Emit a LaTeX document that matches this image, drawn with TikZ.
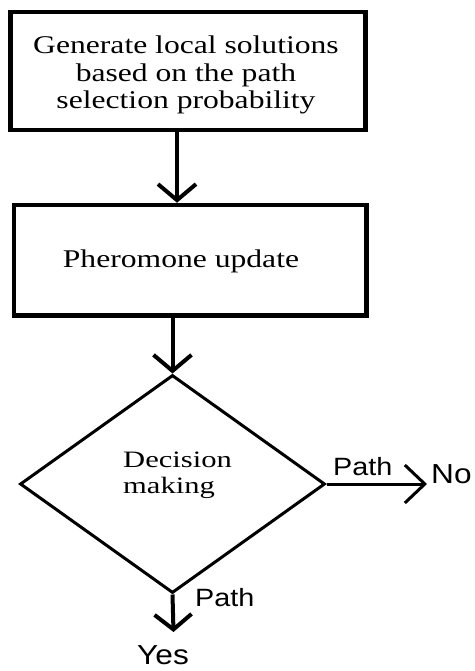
\documentclass[tikz,border=0pt]{standalone}
\usepackage{fontspec}
\usetikzlibrary{arrows.meta,shapes.geometric}
\newfontfamily\boxserif[FakeStretch=1.24]{Liberation Serif}
\newfontfamily\decserif[FakeStretch=1.3]{Liberation Serif}
\newfontfamily\labsans[FakeStretch=1.15]{Liberation Sans}
\begin{document}
\begin{tikzpicture}[x=1pt,y=-1pt,
  procbox/.style={draw, line width=4.5pt, rectangle, inner sep=0pt},
  decbox/.style={draw, line width=3pt, diamond, inner sep=0pt},
  flow/.style={line width=4pt, -{Straight Barb[length=16pt,width=38pt]}},
  flowthin/.style={line width=3pt, -{Straight Barb[length=20pt,width=38pt]}},
  boxtext/.style={font=\boxserif\fontsize{25.5}{27.5}\selectfont, align=center, inner sep=0pt},
  dectext/.style={font=\decserif\fontsize{23.5}{26}\selectfont, align=left, inner sep=0pt},
  lab/.style={font=\labsans\fontsize{25}{30}\selectfont, inner sep=0pt},
  biglab/.style={font=\labsans\fontsize{27.5}{30}\selectfont, inner sep=0pt}]
\useasboundingbox (0,0) rectangle (474,671);
\fill[white] (0,0) rectangle (474,671);

\node[procbox, minimum width=355pt, minimum height=118pt] (box1) at (188,71) {};
\node[boxtext] (t1) at (186,75) {Generate local solutions\\based on the path\\selection probability};

\node[procbox, minimum width=352.5pt, minimum height=110.5pt] (box2) at (190.25,260.25) {};
\node[boxtext, anchor=base] (t2) at (181,267) {Pheromone update};

\node[decbox, minimum width=305pt, minimum height=218pt] (dec) at (172.5,484) {};
\node[dectext, anchor=north west] (t3) at (123,452) {Decision\\making};

\coordinate (noend) at (427,484);
\coordinate (yesend) at (173.5,632);

\draw[flow] ([xshift=4.5pt]box1.south -| dec.north) -- ([xshift=4.5pt]box2.north -| dec.north);
\draw[flow] (box2.south -| dec.north) -- (dec.north);
\draw[flowthin] (dec.east) -- (noend);
\draw[flow, -{Straight Barb[length=15pt,width=37pt]}] (dec.south) -- (yesend);

\node[lab, anchor=base west] (p1) at (333,475) {Path};
\node[biglab, anchor=base west] (no) at (431,483) {No};
\node[lab, anchor=base west] (p2) at (195,606) {Path};
\node[biglab, anchor=base west] (yes) at (137,664) {Yes};
\end{tikzpicture}
\end{document}
